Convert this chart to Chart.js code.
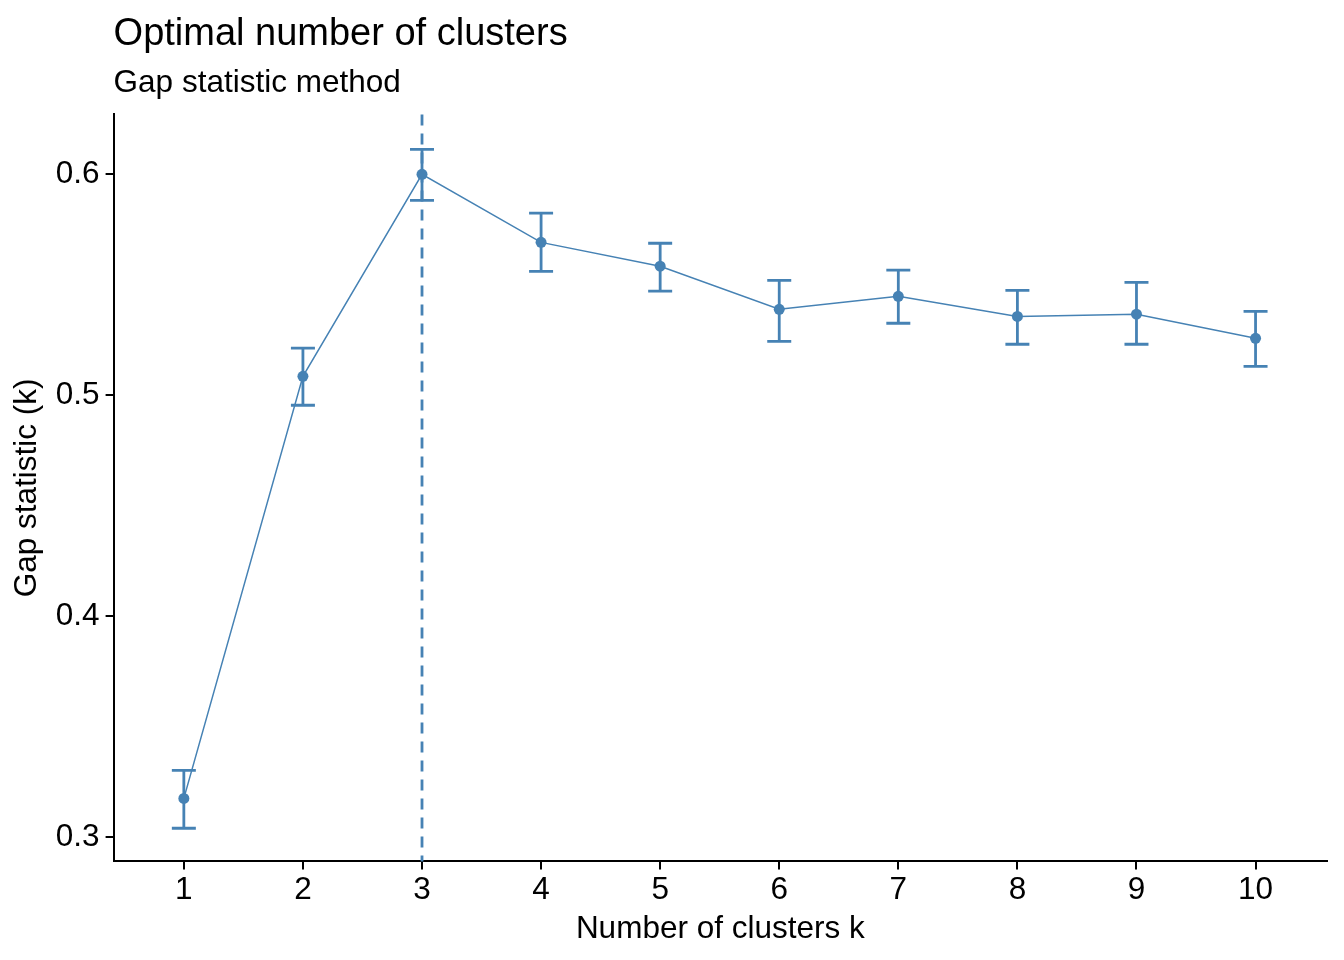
<!DOCTYPE html>
<html lang="en">
<head>
<meta charset="UTF-8">
<title>Optimal number of clusters</title>
<script src="https://cdn.jsdelivr.net/npm/chart.js"></script>
<style>
    body { margin: 0; background: #fff; }
    #wrap { width: 1344px; height: 960px; }
</style>
</head>
<body>
<div id="wrap"><canvas id="gapChart" width="1344" height="960"></canvas></div>
<script>
    // data
    const clusters = [1, 2, 3, 4, 5, 6, 7, 8, 9, 10];
    const gap = [0.3176, 0.5086, 0.6000, 0.5692, 0.5584, 0.5389, 0.5448, 0.5357, 0.5367, 0.5258];
    const gapUpper = [0.3303, 0.5213, 0.6113, 0.5824, 0.5688, 0.5520, 0.5566, 0.5475, 0.5511, 0.5380];
    const gapLower = [0.3041, 0.4955, 0.5882, 0.5561, 0.5471, 0.5244, 0.5326, 0.5231, 0.5231, 0.5131];
    const yTicks = [0.3, 0.4, 0.5, 0.6];
    const optimalK = 3;

    const steel = '#4682B4';
    const font = "'Liberation Sans', Arial, sans-serif";

    // error bars + dashed line at optimal k
    const gapExtras = {
        id: 'gapExtras',
        beforeDatasetsDraw(chart) {
            const { ctx, chartArea, scales: { x, y } } = chart;
            ctx.save();
            ctx.strokeStyle = steel;
            ctx.lineWidth = 2.8;
            ctx.setLineDash([11, 8]);
            const xo = x.getPixelForValue(optimalK);
            ctx.beginPath();
            ctx.moveTo(xo, chartArea.top);
            ctx.lineTo(xo, chartArea.bottom);
            ctx.stroke();
            ctx.setLineDash([]);
            ctx.lineWidth = 2.8;
            clusters.forEach((k, i) => {
                const px = x.getPixelForValue(k);
                const top = y.getPixelForValue(gapUpper[i]);
                const bot = y.getPixelForValue(gapLower[i]);
                ctx.beginPath();
                ctx.moveTo(px, top); ctx.lineTo(px, bot);
                ctx.moveTo(px - 12, top); ctx.lineTo(px + 12, top);
                ctx.moveTo(px - 12, bot); ctx.lineTo(px + 12, bot);
                ctx.stroke();
            });
            ctx.restore();
        }
    };

    new Chart(document.getElementById('gapChart'), {
        type: 'line',
        data: {
            datasets: [{
                data: clusters.map((k, i) => ({ x: k, y: gap[i] })),
                borderColor: steel,
                backgroundColor: steel,
                borderWidth: 1.5,
                pointRadius: 5.5,
                pointBorderWidth: 0,
                tension: 0
            }]
        },
        options: {
            responsive: false,
            devicePixelRatio: 1,
            animation: false,
            layout: { padding: { left: 8, right: 17, top: 12, bottom: 12 } },
            plugins: {
                legend: { display: false },
                tooltip: { enabled: false },
                title: {
                    display: true,
                    text: 'Optimal number of clusters',
                    align: 'start',
                    fullSize: false,
                    color: '#000',
                    font: { family: font, size: 38, weight: 'normal' },
                    padding: { top: 0, bottom: 7 }
                },
                subtitle: {
                    display: true,
                    text: 'Gap statistic method',
                    align: 'start',
                    fullSize: false,
                    color: '#000',
                    font: { family: font, size: 31.5, weight: 'normal' },
                    padding: { top: 0, bottom: 12 }
                }
            },
            scales: {
                x: {
                    type: 'linear',
                    min: 0.41,
                    max: 10.6,
                    afterBuildTicks: axis => { axis.ticks = clusters.map(v => ({ value: v })); },
                    border: { color: '#000', width: 2 },
                    grid: { drawOnChartArea: false, color: '#000', lineWidth: 2, tickLength: 8 },
                    ticks: { color: '#000', font: { family: font, size: 31.5 }, padding: 2, maxRotation: 0 },
                    title: { display: true, text: 'Number of clusters k', color: '#000', font: { family: font, size: 31.5 }, padding: { top: -1, bottom: 0 } }
                },
                y: {
                    type: 'linear',
                    min: 0.2891,
                    max: 0.6271,
                    afterBuildTicks: axis => { axis.ticks = yTicks.map(v => ({ value: v })); },
                    border: { color: '#000', width: 2 },
                    grid: { drawOnChartArea: false, color: '#000', lineWidth: 2, tickLength: 8 },
                    ticks: { color: '#000', font: { family: font, size: 31.5 }, padding: 6, callback: v => v.toFixed(1) },
                    title: { display: true, text: 'Gap statistic (k)', color: '#000', font: { family: font, size: 31.5 }, padding: { top: 0, bottom: 4 } }
                }
            }
        },
        plugins: [gapExtras]
    });
</script>
</body>
</html>
